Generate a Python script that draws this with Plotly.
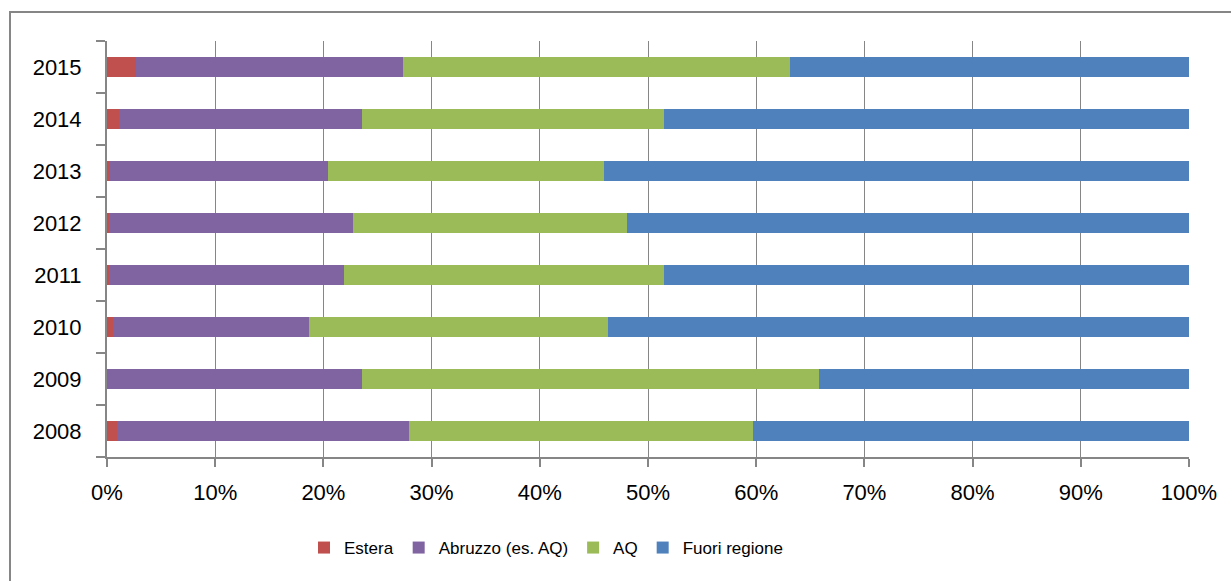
import plotly.graph_objects as go

years = ["2008", "2009", "2010", "2011", "2012", "2013", "2014", "2015"]
estera = [0.92, 0.0, 0.55, 0.18, 0.18, 0.28, 1.14, 2.65]
abruzzo = [26.98, 23.57, 18.12, 21.72, 22.52, 20.12, 22.43, 24.70]
aq = [31.80, 42.23, 27.63, 29.58, 25.36, 25.50, 27.91, 35.75]
fuori = [40.30, 34.20, 53.70, 48.52, 51.94, 54.10, 48.52, 36.90]

series = [
    ("Estera", estera, "#C0504D"),
    ("Abruzzo (es. AQ)", abruzzo, "#8064A2"),
    ("AQ", aq, "#9BBB59"),
    ("Fuori regione", fuori, "#4F81BD"),
]

fig = go.Figure()
for name, vals, col in series:
    fig.add_trace(go.Bar(
        y=years, x=vals, name=name, orientation="h",
        marker=dict(color=col, line=dict(width=0)),
    ))

grid = "#868686"
W, H = 1231, 581
L, R, T, B = 107, 42, 41, 124
pw, ph = W - L - R, H - T - B

fig.update_layout(
    width=W, height=H,
    margin=dict(l=L, r=R, t=T, b=B, autoexpand=False),
    barmode="stack", barnorm="percent", bargap=0.6,
    plot_bgcolor="white", paper_bgcolor="white",
    font=dict(family="Liberation Sans, Arial, sans-serif", size=22, color="#000000"),
    showlegend=True,
    legend=dict(
        orientation="h", x=(546 - L) / pw, xanchor="center",
        y=-(548 - (T + ph)) / ph, yanchor="middle",
        font=dict(size=17), traceorder="normal", itemwidth=30,
    ),
    xaxis=dict(
        range=[0, 100], dtick=10, ticksuffix="%",
        showgrid=True, gridcolor=grid, gridwidth=1,
        showline=True, linecolor=grid, linewidth=2,
        ticks="outside", ticklen=8, tickcolor=grid, tickwidth=2,
        ticklabelstandoff=7,
        zeroline=False, fixedrange=True,
    ),
    yaxis=dict(
        type="category", showgrid=False,
        showline=True, linecolor=grid, linewidth=2,
        ticks="outside", ticklen=9, tickcolor=grid, tickwidth=2,
        tickson="boundaries", ticklabelstandoff=19,
        zeroline=False, fixedrange=True,
    ),
    shapes=[dict(
        type="rect", xref="paper", yref="paper",
        x0=(10 - L) / pw, x1=(1245 - L) / pw,
        y0=-(595 - (T + ph)) / ph, y1=1 + (T - 12) / ph,
        line=dict(color=grid, width=2), fillcolor="rgba(0,0,0,0)", layer="below",
    )],
)

fig.write_html(
    "out.html",
    config={"displayModeBar": False},
    post_script="document.body.style.margin='0';document.body.style.overflow='hidden';",
)
